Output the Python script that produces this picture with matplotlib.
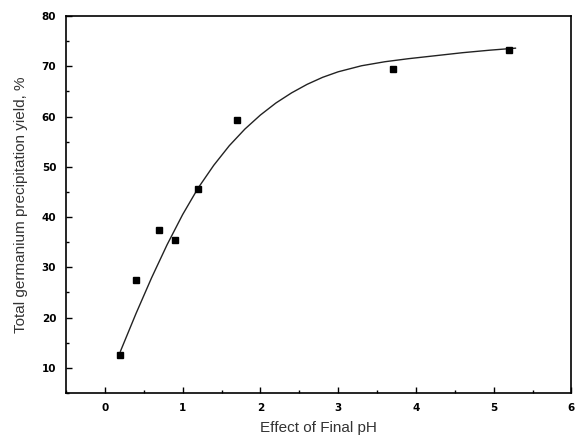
import numpy as np
import matplotlib.pyplot as plt
from matplotlib.ticker import MultipleLocator

# Measured points
ph = [0.2, 0.4, 0.7, 0.9, 1.2, 1.7, 3.7, 5.2]
yield_pct = [12.6, 27.4, 37.5, 35.5, 45.5, 59.4, 69.4, 73.3]

# Fitted curve
fit_x = [0.2, 0.4, 0.6, 0.8, 1.0, 1.2, 1.4, 1.6, 1.8, 2.0, 2.2, 2.4, 2.6,
         2.8, 3.0, 3.3, 3.6, 3.9, 4.25, 4.6, 4.95, 5.28]
fit_y = [13.3, 20.8, 27.9, 34.5, 40.5, 45.8, 50.3, 54.2, 57.5, 60.3, 62.7,
         64.7, 66.4, 67.8, 68.9, 70.1, 70.9, 71.5, 72.1, 72.7, 73.2, 73.6]

fig = plt.figure(figsize=(5.77, 4.42), dpi=100)
ax = fig.add_axes([0.1144, 0.1109, 0.8760, 0.8529])

ax.plot(fit_x, fit_y, color='#222222', linewidth=1.0)
ax.plot(ph, yield_pct, linestyle='none', marker='s', markersize=5,
        color='black')

ax.set_xlim(-0.5, 6)
ax.set_ylim(5, 80)
ax.xaxis.set_major_locator(MultipleLocator(1))
ax.xaxis.set_minor_locator(MultipleLocator(0.5))
ax.yaxis.set_major_locator(MultipleLocator(10))
ax.yaxis.set_minor_locator(MultipleLocator(5))
ax.set_yticks(range(10, 81, 10))
ax.tick_params(which='major', direction='in', length=4, width=1,
               labelsize=7.5, pad=7)
ax.tick_params(which='minor', direction='in', length=2, width=1)
for lab in ax.get_xticklabels() + ax.get_yticklabels():
    lab.set_fontweight('bold')

for sp in ax.spines.values():
    sp.set_linewidth(1.2)

ax.set_xlabel('Effect of Final pH', fontsize=11, family='Liberation Sans',
              color='#333333', labelpad=6)
ax.set_ylabel('Total germanium precipitation yield, %', fontsize=11,
              family='Liberation Sans', color='#333333', labelpad=10)

fig.savefig('out.png', dpi=100)
